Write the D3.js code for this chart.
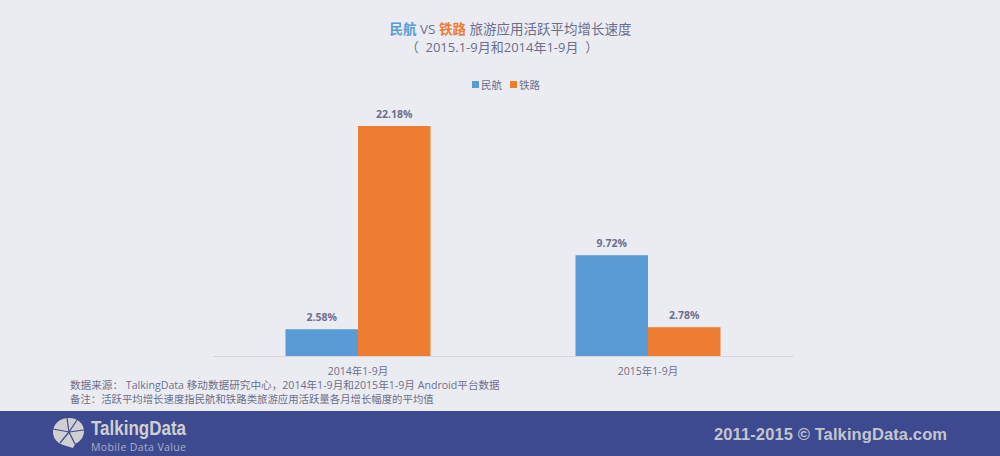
<!DOCTYPE html>
<html><head><meta charset="utf-8">
<script src="https://cdn.jsdelivr.net/npm/d3@7/dist/d3.min.js"></script>
<style>
html,body{margin:0;padding:0;background:#ebecf2;overflow:hidden}
text{font-family:"Open Sans","Noto Sans CJK SC",sans-serif}
</style></head><body><svg id="c" width="1000" height="456"></svg>
<script>
const categories=["2014年1-9月","2015年1-9月"];
const seriesNames=["民航","铁路"];
const minhang=[2.58,9.72];
const tielu=[22.18,2.78];
const colors=["#5a9bd5","#ef7d31"];
const svg=d3.select("#c");
const ink="#6b6f8c";
svg.append("rect").attr("width",1000).attr("height",456).attr("fill","#ebecf2");
const x=d3.scaleBand().domain(categories).range([213,793]);
const x1=d3.scaleBand().domain(seriesNames).range([0,145]);
const y=d3.scaleLinear().domain([0,22.18]).range([356,126]);
const ax=svg.append("g").attr("transform","translate(0,356)").call(d3.axisBottom(x).tickSize(0).tickPadding(12));
ax.select(".domain").attr("stroke","#d3d4da");
ax.selectAll("text").attr("fill",ink).attr("font-size",10.5).style("font-family",'"Open Sans","Noto Sans CJK SC",sans-serif');
[minhang,tielu].forEach((vals,s)=>{
  const g=svg.append("g");
  const bx=(i)=>x(categories[i])+x.bandwidth()/2-72.5+x1(seriesNames[s]);
  g.selectAll("rect").data(vals).join("rect")
    .attr("x",(d,i)=>bx(i)).attr("y",d=>y(d)).attr("width",x1.bandwidth()).attr("height",d=>y(0)-y(d)).attr("fill",colors[s]);
  g.selectAll("text").data(vals).join("text")
    .attr("x",(d,i)=>bx(i)+x1.bandwidth()/2).attr("y",d=>y(d)-8).attr("text-anchor","middle")
    .attr("font-size",10.5).attr("font-weight",700).attr("fill",ink).text(d=>d.toFixed(2)+"%");
});
// title
const t=svg.append("text").attr("x",510.5).attr("y",34).attr("text-anchor","middle").attr("font-size",13.5).attr("fill",ink);
t.append("tspan").attr("fill",colors[0]).attr("font-weight",700).text("民航");
t.append("tspan").text(" VS ");
t.append("tspan").attr("fill",colors[1]).attr("font-weight",700).text("铁路");
t.append("tspan").text(" 旅游应用活跃平均增长速度");
svg.append("text").attr("x",502).attr("y",52).attr("text-anchor","middle").attr("font-size",13).attr("fill",ink).style("white-space","pre").text("（  2015.1-9月和2014年1-9月  ）");
// legend
const legendX=[472,510];
seriesNames.forEach((n,i)=>{
  svg.append("rect").attr("x",legendX[i]).attr("y",81).attr("width",7).attr("height",7).attr("fill",colors[i]);
  svg.append("text").attr("x",legendX[i]+9).attr("y",89).attr("font-size",10.5).attr("fill",ink).text(n);
});
// notes
svg.append("text").attr("x",70).attr("y",389).attr("font-size",10.62).attr("fill",ink).text("数据来源： TalkingData 移动数据研究中心，2014年1-9月和2015年1-9月 Android平台数据");
svg.append("text").attr("x",70).attr("y",403).attr("font-size",10.4).attr("fill",ink).text("备注：活跃平均增长速度指民航和铁路类旅游应用活跃量各月增长幅度的平均值");
// footer
svg.append("rect").attr("y",411).attr("width",1000).attr("height",45).attr("fill","#3d4a90");
const logo=svg.append("g").attr("fill","#d0d0d2");
logo.append("path").attr("d","M69 418 C60 418 53 424 53 432 C53 438 57 443 63 445 L73 448 L75 444 C80 442 84 437 84 431 C84 424 78 418 69 418Z");
logo.append("g").attr("stroke","#3d4a90").attr("stroke-width",1.2).attr("fill","none").selectAll("path")
  .data(["M69 432 L67 418","M69 432 L77 420","M69 432 L84 430","M69 432 L53 429","M69 432 L60 443","M69 432 L75 444"]).join("path").attr("d",d=>d);
svg.append("text").attr("x",91).attr("y",435).attr("font-size",21).attr("font-weight",700).attr("fill","#d0d0d2").attr("textLength",95).attr("lengthAdjust","spacingAndGlyphs").style("font-family","'Liberation Sans Narrow','Liberation Sans',sans-serif").text("TalkingData");
svg.append("text").attr("x",91).attr("y",451).attr("font-size",10.5).attr("fill","#a9aec9").attr("textLength",95).style("font-family","'Open Sans',sans-serif").text("Mobile Data Value");
svg.append("text").attr("x",714).attr("y",440).attr("font-size",16.5).attr("font-weight",700).attr("fill","#c4c5cd").attr("textLength",233).style("font-family","'Liberation Sans',sans-serif").text("2011-2015 © TalkingData.com");
</script></body></html>
